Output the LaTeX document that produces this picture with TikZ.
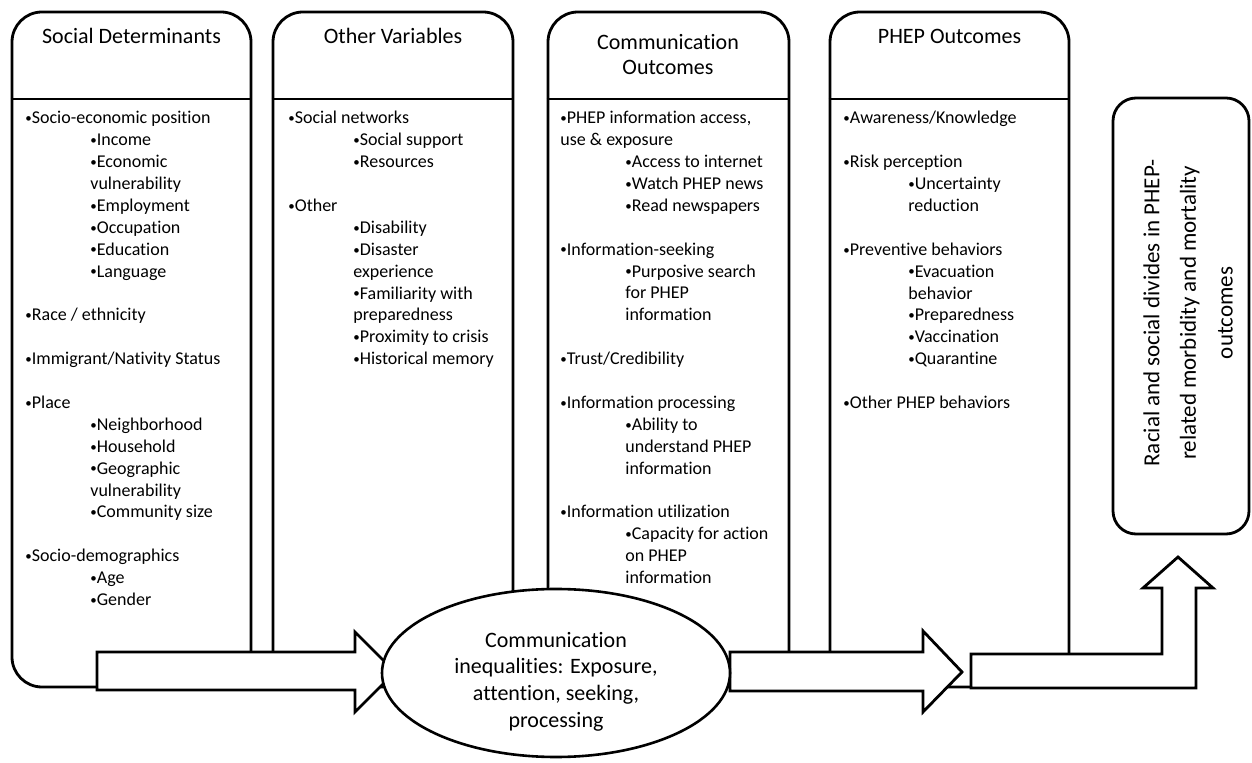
\documentclass[tikz,border=0pt]{standalone}
\usepackage{fontspec}
\setmainfont{Carlito}[Ligatures=NoCommon]
\usetikzlibrary{shapes.geometric,fit}
\tikzset{
  colbox/.style={draw=black,line width=1.4pt,rounded corners=15pt,inner sep=0pt},
  divline/.style={draw=black,line width=0.7pt},
  headtext/.style={anchor=base,align=center,inner sep=0pt,font=\fontsize{11}{12.5}\selectfont},
  listtext/.style={anchor=north west,align=left,inner sep=0pt,font=\fontsize{9}{10.95}\selectfont},
  blockarrow/.style={draw=black,fill=white,line width=1.4pt,line join=miter},
  hub/.style={draw=black,fill=white,ellipse,line width=1.3pt,align=center,inner sep=0pt,minimum width=174pt,minimum height=84pt,font=\fontsize{11}{13.3}\selectfont},
  resultbox/.style={draw=black,line width=1.4pt,rounded corners=11.5pt,inner sep=0pt}
}
\newcommand{\dotmark}{\raisebox{0.6pt}{\scalebox{0.72}{\textbullet}}}
\newcommand{\bulA}[1]{\dotmark#1}
\newcommand{\bulB}[1]{\hspace*{32.5pt}\dotmark#1}
\newcommand{\contB}[1]{\hspace*{32.5pt}#1}

\begin{document}
\begin{tikzpicture}[x=0.5pt,y=-0.5pt]
  \useasboundingbox (0,0) rectangle (1252,763);

  \node (sd) [colbox,fit={(12,12) (251,687)}] {};
  \node (ov) [colbox,fit={(273,12) (513,687)}] {};
  \node (co) [colbox,fit={(548,12) (789,687)}] {};
  \node (po) [colbox,fit={(830,12) (1069,687)}] {};

  \node (sdhead) [headtext] at (131.5,44) {Social Determinants};
  \node (ovhead) [headtext] at (393,44) {Other Variables};
  \node (cohead) [headtext,anchor=north] at (668,34) {Communication\\Outcomes};
  \node (pohead) [headtext] at (949.5,44) {PHEP Outcomes};

  \coordinate (divy) at (0,99);
  \foreach \col in {sd,ov,co,po}
    \draw[divline] (\col.west |- divy) -- (\col.east |- divy);

  \node (sdlist) [listtext] at (25,111) {
    \bulA{Socio-economic position}\\
    \bulB{Income}\\
    \bulB{Economic}\\
    \contB{vulnerability}\\
    \bulB{Employment}\\
    \bulB{Occupation}\\
    \bulB{Education}\\
    \bulB{Language}\\[10.95pt]
    \bulA{Race / ethnicity}\\[10.95pt]
    \bulA{Immigrant/Nativity Status}\\[10.95pt]
    \bulA{Place}\\
    \bulB{Neighborhood}\\
    \bulB{Household}\\
    \bulB{Geographic}\\
    \contB{vulnerability}\\
    \bulB{Community size}\\[10.95pt]
    \bulA{Socio-demographics}\\
    \bulB{Age}\\
    \bulB{Gender}};

  \node (ovlist) [listtext] at (288,111) {
    \bulA{Social networks}\\
    \bulB{Social support}\\
    \bulB{Resources}\\[10.95pt]
    \bulA{Other}\\
    \bulB{Disability}\\
    \bulB{Disaster}\\
    \contB{experience}\\
    \bulB{Familiarity with}\\
    \contB{preparedness}\\
    \bulB{Proximity to crisis}\\
    \bulB{Historical memory}};

  \node (colist) [listtext] at (560,111) {
    \bulA{PHEP information access,}\\
    use \& exposure\\
    \bulB{Access to internet}\\
    \bulB{Watch PHEP news}\\
    \bulB{Read newspapers}\\[10.95pt]
    \bulA{Information-seeking}\\
    \bulB{Purposive search}\\
    \contB{for PHEP}\\
    \contB{information}\\[10.95pt]
    \bulA{Trust/Credibility}\\[10.95pt]
    \bulA{Information processing}\\
    \bulB{Ability to}\\
    \contB{understand PHEP}\\
    \contB{information}\\[10.95pt]
    \bulA{Information utilization}\\
    \bulB{Capacity for action}\\
    \contB{on PHEP}\\
    \contB{information}};

  \node (polist) [listtext] at (843,111) {
    \bulA{Awareness/Knowledge}\\[10.95pt]
    \bulA{Risk perception}\\
    \bulB{Uncertainty}\\
    \contB{reduction}\\[10.95pt]
    \bulA{Preventive behaviors}\\
    \bulB{Evacuation}\\
    \contB{behavior}\\
    \bulB{Preparedness}\\
    \bulB{Vaccination}\\
    \bulB{Quarantine}\\[10.95pt]
    \bulA{Other PHEP behaviors}};

  \draw[blockarrow] (971,654) -- (1162,654) -- (1162,588) -- (1143,588) -- (1178,557)
    -- (1213,588) -- (1196,588) -- (1196,688) -- (971,688) -- cycle;
  \draw[blockarrow] (97,652) -- (355,652) -- (355,632) -- (395,672) -- (355,712)
    -- (355,690) -- (97,690) -- cycle;
  \draw[blockarrow] (730,652) -- (923,652) -- (923,631) -- (962,672) -- (923,712)
    -- (923,691) -- (730,691) -- cycle;

  \node (hub) [hub] at (556,673) {\rule{0pt}{16pt}Communication\\inequalities: Exposure,\\attention, seeking,\\processing};

  \node (divide) [resultbox,fit={(1113,98) (1249,534)}] {};
  \node (dividetext) [rotate=90,align=center,inner sep=0pt,font=\fontsize{11.5}{18.3}\selectfont] at (1188,313)
    {Racial and social divides in PHEP-\\related morbidity and mortality\\outcomes};
\end{tikzpicture}
\end{document}
